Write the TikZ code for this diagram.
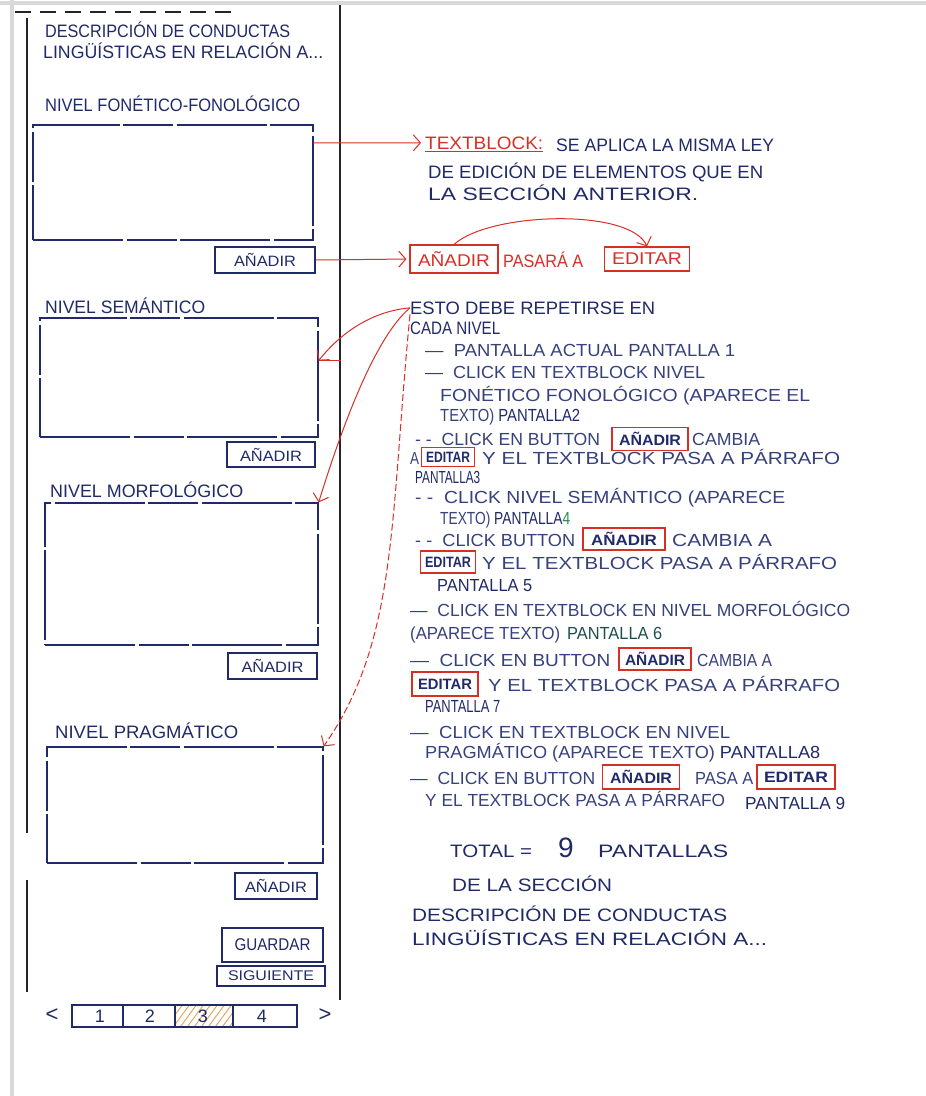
\documentclass[tikz,border=0pt]{standalone}
\usepackage{fontspec}
\setmainfont{Liberation Sans}
\usetikzlibrary{arrows.meta,calc}
\definecolor{ink}{RGB}{32,42,105}
\definecolor{inkl}{RGB}{55,65,125}
\definecolor{rd}{RGB}{214,48,38}
\definecolor{gr}{RGB}{40,135,75}
\definecolor{dgr}{RGB}{30,80,75}
\definecolor{framec}{RGB}{35,35,45}
\definecolor{hatchc}{RGB}{222,165,85}
\newsavebox\hwbox
\newcommand\hw[2]{\sbox\hwbox{#2}\pgfmathsetmacro\hwf{#1/\wd\hwbox}\scalebox{\hwf}[1]{\usebox\hwbox}}
\begin{document}
\begin{tikzpicture}[x=1pt,y=-1pt,
  tx/.style={anchor=base west,inner sep=0pt,text=ink,font=\fontsize{18}{18}\selectfont},
  st/.style={anchor=base west,inner sep=0pt,text=inkl,font=\fontsize{17.5}{17.5}\selectfont},
  sk/.style={draw=ink,line width=1.3pt,dash pattern=on 90pt off 4pt on 50pt off 3pt},
  btn/.style={draw=ink,line width=1.2pt,inner sep=0pt,text=ink,font=\fontsize{15}{15}\selectfont},
  rbox/.style={draw=rd,line width=1.2pt,inner sep=0pt,text=ink,font=\bfseries\fontsize{15}{15}\selectfont},
  rarr/.style={draw=rd,line width=1pt,-{Straight Barb[length=7pt,width=16pt]}},
  rtx/.style={anchor=base west,inner sep=0pt,text=rd,font=\fontsize{18}{18}\selectfont},
]
\useasboundingbox (0,0) rectangle (926,1096);
\fill[white] (0,0) rectangle (926,1096);
% page edges
\draw[black!15,line width=4pt] (0,3) -- (926,3);
\draw[black!15,line width=4pt] (12,0) -- (12,1096);
% phone frame
\draw[framec,line width=1.2pt,dash pattern=on 16pt off 9pt] (15,12) -- (232,12);
\draw[framec,line width=1.3pt] (27,18) -- (27,833);
\draw[framec,line width=1.3pt] (27,880) -- (27,992);
\draw[framec,line width=1.3pt] (340,5) -- (340,1000);

% left panel texts
\node[tx] (t1) at (45,37) {\hw{245}{DESCRIPCIÓN DE CONDUCTAS}};
\node[tx] (t2) at (43,58) {\hw{280}{LINGÜÍSTICAS EN RELACIÓN A...}};
\node[tx] (h1) at (45,111) {\hw{255}{NIVEL FONÉTICO-FONOLÓGICO}};
\node[sk,minimum width=280pt,minimum height=115pt] (box1) at (173,182.5) {};
\node[btn,minimum width=100pt,minimum height=26pt] (add1) at (265,260) {\hw{62}{AÑADIR}};

\node[tx] (h2) at (45,313) {\hw{160}{NIVEL SEMÁNTICO}};
\node[sk,minimum width=278pt,minimum height=119pt] (box2) at (179,377.5) {};
\node[btn,minimum width=88pt,minimum height=25pt] (add2) at (271,454.5) {\hw{62}{AÑADIR}};

\node[tx] (h3) at (50,497) {\hw{193}{NIVEL MORFOLÓGICO}};
\node[sk,minimum width=273pt,minimum height=142pt] (box3) at (181.5,574) {};
\node[btn,minimum width=89pt,minimum height=26pt] (add3) at (272.5,666) {\hw{62}{AÑADIR}};

\node[tx] (h4) at (55,738) {\hw{183}{NIVEL PRAGMÁTICO}};
\node[sk,minimum width=276pt,minimum height=116pt] (box4) at (185,805) {};
\node[btn,minimum width=82pt,minimum height=26pt] (add4) at (276,886) {\hw{62}{AÑADIR}};

\node[btn,minimum width=101pt,minimum height=34pt,font=\fontsize{17}{17}\selectfont] (guardar) at (272.5,945) {\hw{76}{GUARDAR}};
\node[btn,minimum width=108pt,minimum height=20pt,font=\fontsize{14}{14}\selectfont] (sig) at (271,976) {\hw{86}{SIGUIENTE}};

% pagination
\begin{scope}
\clip (175,1005) rectangle (233,1027);
\foreach \i in {0,7,...,100} \draw[hatchc,line width=0.9pt] (150+\i,1030) -- (172+\i,1000);
\end{scope}
\node[draw=ink,line width=1.2pt,minimum width=225pt,minimum height=22pt,inner sep=0pt] (pg) at (184.5,1016) {};
\draw[ink,line width=1.1pt] (123,1005) -- (123,1027);
\draw[ink,line width=1.1pt] (175,1005) -- (175,1027);
\draw[ink,line width=1.1pt] (233,1005) -- (233,1027);
\node[text=ink,font=\fontsize{18}{18}\selectfont] (p1) at (100,1016) {1};
\node[text=ink,font=\fontsize{18}{18}\selectfont] (p2) at (150,1016) {2};
\node[text=ink,font=\fontsize{18}{18}\selectfont] (p3) at (203,1016) {3};
\node[text=ink,font=\fontsize{18}{18}\selectfont] (p4) at (262,1016) {4};
\node[text=ink,font=\fontsize{22}{22}\selectfont] (prev) at (52,1015) {<};
\node[text=ink,font=\fontsize{22}{22}\selectfont] (next) at (325,1015) {>};

% right: textblock note
\node[rtx] (tb) at (425,149) {\hw{118}{TEXTBLOCK:}};
\draw[rd,line width=1pt] ([yshift=-2pt]tb.south west) -- ([yshift=-2pt]tb.south east);
\node[tx] (n1) at (556,151) {\hw{218}{SE APLICA LA MISMA LEY}};
\node[tx] (n2) at (428,178) {\hw{335}{DE EDICIÓN DE ELEMENTOS QUE EN}};
\node[tx] (n3) at (428,200) {\hw{270}{LA SECCIÓN ANTERIOR.}};
\draw[rarr,shorten >=4pt] ($(box1.north east)!0.16!(box1.south east)$) -- (tb.west);

% añadir pasara a editar
\node[draw=rd,line width=1.2pt,inner sep=0pt,minimum width=88pt,minimum height=28pt,text=rd,font=\fontsize{17}{17}\selectfont] (ra) at (454,259) {\hw{72}{AÑADIR}};
\node[rtx] (pa) at (503,267) {\hw{80}{PASARÁ A}};
\node[draw=rd,line width=1.2pt,inner sep=0pt,minimum width=85pt,minimum height=24pt,text=rd,font=\fontsize{17}{17}\selectfont] (re) at (647,259) {\hw{70}{EDITAR}};
\draw[rarr,shorten >=3pt] (add1.east) -- (ra.west);
\draw[rarr] (ra.north) .. controls (490,212) and (630,208) .. (re.north);

% esto debe repetirse
\node[tx] (esto) at (410,314) {\hw{245}{ESTO DEBE REPETIRSE EN}};
\node[tx] (cada) at (410,334) {\hw{90}{CADA NIVEL}};
\draw[rarr] (esto.west) .. controls (365,312) and (335,340) .. ($(box2.north east)!0.36!(box2.south east)$);
\draw[rd,line width=1pt] ($(box2.north east)!0.36!(box2.south east)$) -- ++(22,0);
\draw[rarr] (esto.west) .. controls (372,340) and (338,440) .. (box3.north east);
\draw[rarr,dash pattern=on 7pt off 3pt] (esto.south west) .. controls (390,520) and (398,640) .. (box4.north east);

% steps
\node[st] (s1) at (425,356) {\hw{310}{—\ \ PANTALLA ACTUAL PANTALLA 1}};
\node[st] (s2) at (425,378) {\hw{280}{—\ \ CLICK EN TEXTBLOCK NIVEL}};
\node[st] (s3) at (440,401) {\hw{370}{FONÉTICO FONOLÓGICO (APARECE EL}};
\node[st] (s4) at (440,421) {\hw{140}{TEXTO) \textcolor{ink}{PANTALLA2}}};
\node[st] (s5a) at (415,445) {\hw{185}{- -\ \ CLICK EN BUTTON}};
\node[rbox,minimum width=76pt,minimum height=23pt] (b5) at (650,439) {\hw{62}{AÑADIR}};
\node[st] (s5b) at (692,445) {\hw{68}{CAMBIA}};
\node[st] (s6a) at (410,464) {\hw{9}{A}};
\node[rbox,minimum width=53pt,minimum height=19pt] (e6) at (448,457) {\hw{44}{EDITAR}};
\node[st] (s6b) at (482,464) {\hw{358}{Y EL TEXTBLOCK PASA A PÁRRAFO}};
\node[st] (s7) at (415,483) {\hw{65}{\textcolor{ink}{PANTALLA3}}};
\node[st] (s8) at (415,503) {\hw{370}{- -\ \ CLICK NIVEL SEMÁNTICO (APARECE}};
\node[st] (s9) at (440,524) {\hw{130}{TEXTO) \textcolor{ink}{PANTALLA}\textcolor{gr}{4}}};
\node[st] (s10a) at (415,546) {\hw{160}{- -\ \ CLICK BUTTON}};
\node[rbox,minimum width=82pt,minimum height=22pt] (b10) at (624,539) {\hw{66}{AÑADIR}};
\node[st] (s10b) at (672,546) {\hw{100}{CAMBIA A}};
\node[rbox,minimum width=55pt,minimum height=22pt] (e11) at (448,562) {\hw{46}{EDITAR}};
\node[st] (s11) at (482,569) {\hw{355}{Y EL TEXTBLOCK PASA A PÁRRAFO}};
\node[st] (s12) at (437,591) {\hw{95}{\textcolor{ink}{PANTALLA 5}}};
\node[st] (s13) at (410,616) {\hw{440}{—\ \ CLICK EN TEXTBLOCK EN NIVEL MORFOLÓGICO}};
\node[st] (s14a) at (410,639) {\hw{150}{(APARECE TEXTO)}};
\node[st] (s14b) at (567,639) {\hw{95}{\textcolor{dgr}{PANTALLA 6}}};
\node[st] (s15a) at (410,666) {\hw{200}{—\ \ CLICK EN BUTTON}};
\node[rbox,minimum width=72pt,minimum height=22pt] (b15) at (655,659) {\hw{60}{AÑADIR}};
\node[st] (s15b) at (697,666) {\hw{75}{CAMBIA A}};
\node[rbox,minimum width=66pt,minimum height=24pt] (e16) at (445,684) {\hw{54}{EDITAR}};
\node[st] (s16) at (488,691) {\hw{352}{Y EL TEXTBLOCK PASA A PÁRRAFO}};
\node[st] (s17) at (425,712) {\hw{75}{\textcolor{ink}{PANTALLA 7}}};
\node[st] (s18) at (410,738) {\hw{320}{—\ \ CLICK EN TEXTBLOCK EN NIVEL}};
\node[st] (s19) at (425,758) {\hw{395}{PRAGMÁTICO (APARECE TEXTO) \textcolor{ink}{PANTALLA8}}};
\node[st] (s20a) at (410,784) {\hw{185}{—\ \ CLICK EN BUTTON}};
\node[rbox,minimum width=77pt,minimum height=24pt] (b20) at (641,777) {\hw{62}{AÑADIR}};
\node[st] (s20b) at (695,784) {\hw{58}{PASA A}};
\node[rbox,minimum width=78pt,minimum height=24pt] (e20) at (796,777) {\hw{64}{EDITAR}};
\node[st] (s21a) at (425,806) {\hw{300}{Y EL TEXTBLOCK PASA A PÁRRAFO}};
\node[st] (s21b) at (745,809) {\hw{100}{\textcolor{ink}{PANTALLA 9}}};

% total
\node[tx] (tot) at (450,857) {\hw{82}{TOTAL =}};
\node[tx,font=\fontsize{28}{28}\selectfont] (nine) at (558,857) {9};
\node[tx] (pant) at (598,857) {\hw{130}{PANTALLAS}};
\node[tx] (dela) at (452,891) {\hw{160}{DE LA SECCIÓN}};
\node[tx] (d1) at (412,921) {\hw{315}{DESCRIPCIÓN DE CONDUCTAS}};
\node[tx] (d2) at (412,945) {\hw{355}{LINGÜÍSTICAS EN RELACIÓN A...}};
\end{tikzpicture}
\end{document}
